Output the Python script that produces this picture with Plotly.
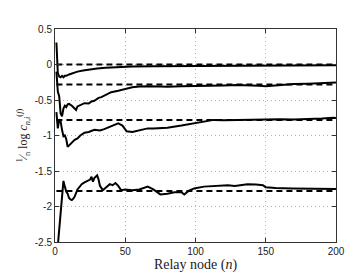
import plotly.graph_objects as go

# ---- data ----
n1 = [1, 2, 3, 4, 5, 6, 7, 8, 10, 13, 16, 20, 26, 30, 36, 45, 55, 70, 85, 100, 130, 160, 200]
v1 = [0.31, -0.12, -0.17, -0.18, -0.16, -0.18, -0.16, -0.16, -0.14, -0.12, -0.10, -0.085,
      -0.065, -0.055, -0.045, -0.035, -0.028, -0.024, -0.022, -0.02, -0.016, -0.013, -0.01]

n2 = [1, 2, 3, 4, 5, 6, 7, 8, 9, 10, 12, 14, 15, 16, 18, 21, 24, 26, 28, 31, 33, 36, 40, 45,
      50, 55, 60, 66, 75, 80, 90, 100, 110, 120, 130, 137, 145, 150, 160, 170, 180, 190, 200]
v2 = [-0.10, -0.38, -0.45, -0.69, -0.73, -0.62, -0.58, -0.60, -0.56, -0.555, -0.58, -0.63,
      -0.64, -0.59, -0.57, -0.545, -0.55, -0.52, -0.51, -0.47, -0.46, -0.43, -0.39, -0.37,
      -0.34, -0.32, -0.31, -0.305, -0.31, -0.315, -0.305, -0.305, -0.30, -0.295, -0.29,
      -0.29, -0.30, -0.305, -0.285, -0.275, -0.27, -0.26, -0.255]

n3 = [1, 2, 3, 4, 5, 6, 7, 8, 9, 10, 11, 12, 14, 16, 18, 21, 24, 28, 32, 35, 38, 42, 45, 48,
      51, 55, 60, 66, 70, 75, 80, 90, 99, 106, 113, 120, 130, 137, 145, 150, 160, 170, 180,
      190, 198, 200]
v3 = [-0.67, -0.90, -0.78, -0.80, -0.92, -1.01, -1.00, -1.05, -1.16, -1.14, -1.11, -1.10,
      -1.06, -1.04, -1.00, -0.96, -0.95, -0.92, -0.93, -0.91, -0.885, -0.86, -0.83, -0.86,
      -0.94, -0.95, -0.93, -0.90, -0.90, -0.90, -0.89, -0.86, -0.83, -0.80, -0.78, -0.785,
      -0.78, -0.775, -0.78, -0.775, -0.77, -0.775, -0.77, -0.76, -0.75, -0.755]

n4 = [1, 6, 7, 8, 9, 10, 11, 12, 13, 14, 16, 17, 19, 21, 23, 25, 26, 27, 28, 30, 31, 32, 34,
      36, 39, 41, 43, 45, 47, 50, 53, 55, 60, 66, 70, 75, 80, 85, 90, 92, 95, 99, 106, 113,
      123, 128, 137, 143, 148, 150, 157, 169, 181, 188, 198, 200]
v4 = [-2.78, -1.64, -1.72, -1.79, -1.82, -1.88, -1.90, -1.91, -1.89, -1.86, -1.76, -1.73,
      -1.685, -1.66, -1.64, -1.62, -1.58, -1.65, -1.60, -1.56, -1.62, -1.71, -1.77, -1.74,
      -1.685, -1.70, -1.67, -1.71, -1.77, -1.76, -1.77, -1.77, -1.76, -1.72, -1.76, -1.83,
      -1.82, -1.80, -1.80, -1.83, -1.78, -1.745, -1.72, -1.71, -1.70, -1.71, -1.685, -1.69,
      -1.70, -1.73, -1.74, -1.745, -1.75, -1.76, -1.755, -1.755]

limits = [0.0, -0.28, -0.78, -1.78]
limit_n = [1, 200]

x_ticks = [0, 50, 100, 150, 200]
y_ticks = [0.5, 0, -0.5, -1, -1.5, -2, -2.5]
y_tick_text = ["0.5", "0", "-0.5", "-1", "-1.5", "-2", "-2.5"]

fig = go.Figure()
for lv in limits:
    fig.add_trace(go.Scatter(x=limit_n, y=[lv, lv], mode="lines",
                             line=dict(color="black", width=2, dash="6px,4px"),
                             showlegend=False, hoverinfo="skip"))
for nx, vy in [(n1, v1), (n2, v2), (n3, v3), (n4, v4)]:
    fig.add_trace(go.Scatter(x=nx, y=vy, mode="lines",
                             line=dict(color="black", width=2),
                             showlegend=False))

axis_common = dict(
    showline=True, linecolor="#333333", linewidth=1, mirror="ticks",
    ticks="inside", ticklen=4, tickcolor="#333333",
    showgrid=True, gridcolor="#b0b0b0", griddash="1px,3px", gridwidth=1,
    zeroline=False,
    tickfont=dict(family="Liberation Sans, Arial, sans-serif", size=10, color="#222222"),
)

fig.update_layout(
    width=362, height=272,
    margin=dict(l=47, r=34, t=21, b=30),
    paper_bgcolor="white", plot_bgcolor="white",
    xaxis=dict(range=[0, 200], tickvals=x_ticks,
               title=dict(text="Relay node (<i>n</i>)", standoff=1,
                          font=dict(family="Liberation Serif, serif", size=14, color="#222222")),
               **axis_common),
    yaxis=dict(range=[-2.5, 0.5], tickvals=y_ticks, ticktext=y_tick_text,
               title=dict(text="<sup>1</sup>&#8260;<sub>n</sub> log <i>c</i><sub><i>n,i</i></sub><sup>(<i>f</i>)</sup>",
                          standoff=4,
                          font=dict(family="Liberation Serif, serif", size=12, color="#222222")),
               **axis_common),
)

fig.write_html("out.html")
